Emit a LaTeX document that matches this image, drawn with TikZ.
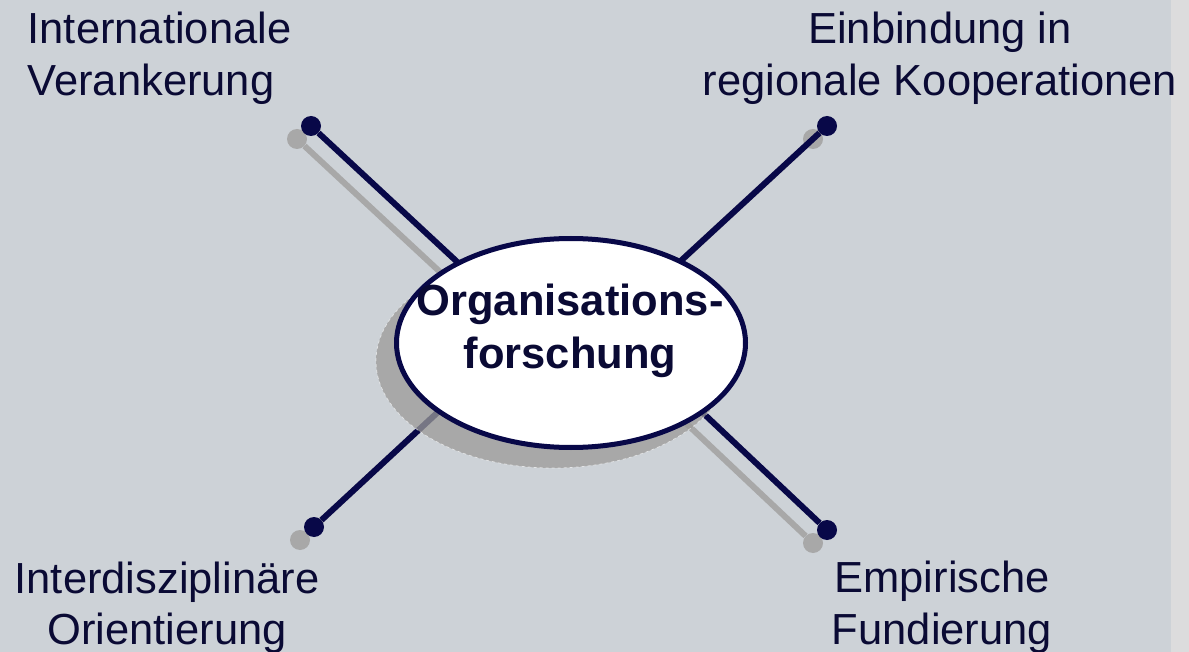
\documentclass[tikz,border=0pt]{standalone}
\usepackage{fontspec}
\setmainfont{Liberation Sans}
\usetikzlibrary{shapes.geometric}
\definecolor{bg}{RGB}{205,210,215}
\definecolor{strip}{RGB}{220,220,221}
\definecolor{navy}{RGB}{8,8,72}
\definecolor{txt}{RGB}{10,10,52}
\definecolor{shad}{RGB}{168,168,168}
\definecolor{shadE}{RGB}{156,155,153}
\begin{document}
\begin{tikzpicture}[x=1pt,y=-1pt,
  lblfont/.style={font=\fontsize{43.5}{52}\selectfont},
  lbl/.style={lblfont, inner sep=0pt, text=txt, anchor=north},
  dotnode/.style={circle, fill=navy, minimum size=20pt, inner sep=0pt},
  shdot/.style={circle, fill=shad, minimum size=20pt, inner sep=0pt},
  conn/.style={draw=navy, line width=6pt},
  shconn/.style={draw=shad, line width=6pt},
  ell/.style={ellipse, inner sep=0pt, minimum width=349pt, minimum height=209pt}
]
\fill[bg] (0,0) rectangle (1171,652);
\fill[strip] (1171,0) rectangle (1189,652);
\useasboundingbox (0,0) rectangle (1189,652);

% inner (hidden) ends of connectors
\coordinate (tlin) at (510,311);
\coordinate (trin) at (626.5,311);
\coordinate (brin) at (628.6,342.8);
\coordinate (blin) at (504.4,350.5);
\coordinate (tlsin) at (496,324);
\coordinate (trsin) at (612.5,324);
\coordinate (brsin) at (614.6,355.8);
\coordinate (blsin) at (490.4,363.5);

% shadows of connectors
\node[shdot] (tls) at (297,139) {};
\node[shdot] (trs) at (813,139) {};
\node[shdot] (brs) at (813,543) {};
\node[shdot] (bls) at (300,540) {};
\draw[shconn] (tls) -- (tlsin);
\draw[shconn] (trs) -- (trsin);
\draw[shconn] (brs) -- (brsin);
\draw[shconn] (bls) -- (blsin);

% connectors
\node[dotnode] (tl) at (311,126) {};
\node[dotnode] (tr) at (827,126) {};
\node[dotnode] (br) at (827,530) {};
\node[dotnode] (bl) at (314,527) {};
\draw[conn] (tl) -- (tlin);
\draw[conn] (tr) -- (trin);
\draw[conn] (br) -- (brin);
\draw[conn] (bl) -- (blin);

% central ellipse with shadow
\node[ell, fill=shadE, opacity=0.75, minimum width=354pt, minimum height=214pt,
      draw=white, draw opacity=0.6, line width=0.7pt, dash pattern=on 3pt off 3pt] (orgshadow) at (553,361) {};
\node[ell, draw=navy, line width=5pt, fill=white] (org) at (571,343) {};
\node[lbl, align=center, font=\bfseries\fontsize{43.5}{53}\selectfont] (orgtext) at (570,283.5) {Organisations-\\forschung};

% labels
\node[lbl, anchor=north west, align=left] (l1) at (27.5,12.2) {Internationale\\Verankerung};
\node[lbl, align=center] (l2) at (940,12.2) {Einbindung in\\regionale Kooperationen};
\node[lbl, align=center, font=\fontsize{43.5}{51.5}\selectfont] (l3) at (167,561.3) {Interdisziplinäre\\Orientierung};
\node[lbl, align=center, font=\fontsize{43.5}{51.5}\selectfont] (l4) at (942,560.9) {Empirische\\Fundierung};
\end{tikzpicture}
\end{document}
